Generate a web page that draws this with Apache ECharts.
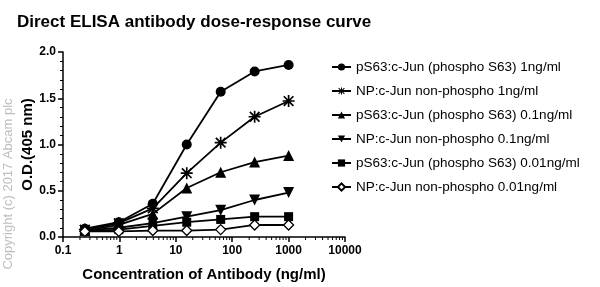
<!DOCTYPE html>
<html>
<head>
<meta charset="utf-8">
<script src="https://cdn.jsdelivr.net/npm/echarts@6/dist/echarts.min.js"></script>
<style>
  html, body { margin: 0; padding: 0; background: #fff; }
</style>
</head>
<body>
<div id="chart" style="width: 600px; height: 287px;"></div>
<script>
// antibody concentrations (ng/ml), 4-fold dilutions
var conc = [0.244, 0.977, 3.906, 15.625, 62.5, 250, 1000];

var seriesNames = [
  "pS63:c-Jun (phospho S63) 1ng/ml",
  "NP:c-Jun non-phospho 1ng/ml",
  "pS63:c-Jun (phospho S63) 0.1ng/ml",
  "NP:c-Jun non-phospho 0.1ng/ml",
  "pS63:c-Jun (phospho S63) 0.01ng/ml",
  "NP:c-Jun non-phospho 0.01ng/ml"
];

// O.D. (405 nm)
var odP1 = [0.09, 0.16, 0.36, 1.0, 1.57, 1.79, 1.86];
var odNP1 = [0.08, 0.15, 0.31, 0.69, 1.02, 1.30, 1.47];
var odP01 = [0.07, 0.13, 0.25, 0.53, 0.70, 0.81, 0.88];
var odNP01 = [0.07, 0.10, 0.15, 0.22, 0.29, 0.40, 0.48];
var odP001 = [0.06, 0.08, 0.12, 0.16, 0.19, 0.22, 0.22];
var odNP001 = [0.06, 0.06, 0.07, 0.07, 0.08, 0.13, 0.13];

var yTicks = ["0.0", "0.5", "1.0", "1.5", "2.0"];

// minor ticks of the log axis (2..9 in each decade)
var minorTicks = [];
[0.1, 1, 10, 100, 1000].forEach(function (d) {
  for (var k = 2; k <= 9; k++) minorTicks.push([d * k]);
});

var starPath = "path://M0 4.3H10V5.7H0Z M4.3 0H5.7V10H4.3Z M0.5 1.5L1.5 0.5L9.5 8.5L8.5 9.5Z M8.5 0.5L9.5 1.5L1.5 9.5L0.5 8.5Z";

function pairs(vals) {
  return conc.map(function (c, i) { return [c, vals[i]]; });
}

function lineSeries(name, vals, symbol, size, extra) {
  var s = {
    name: name,
    type: "line",
    data: pairs(vals),
    symbol: symbol,
    symbolSize: size,
    showAllSymbol: true,
    lineStyle: { color: "#000", width: 1.8 },
    itemStyle: { color: "#000", borderColor: "#000", borderWidth: 0 },
    emphasis: { disabled: true },
    z: 3
  };
  if (extra) Object.assign(s, extra);
  return s;
}

var fontFam = "'Liberation Sans', Arial, sans-serif";

var chart = echarts.init(document.getElementById("chart"));
var option = {
  animation: false,
  textStyle: { fontFamily: fontFam },
  title: {
    text: "Direct ELISA antibody dose-response curve",
    left: 12,
    top: 9,
    textStyle: { fontFamily: fontFam, fontWeight: "bold", fontSize: 17, color: "#000" }
  },
  legend: {
    data: seriesNames,
    orient: "vertical",
    left: 326,
    top: 55,
    itemWidth: 19,
    itemHeight: 9,
    itemGap: 10,
    textStyle: { fontFamily: fontFam, fontSize: 13.5, color: "#000" },
    selectedMode: false
  },
  grid: { left: 63, top: 52, width: 282, bottom: 47, containLabel: false },
  xAxis: {
    type: "log",
    logBase: 10,
    min: 0.1,
    max: 10000,
    name: "Concentration of Antibody (ng/ml)",
    nameLocation: "middle",
    nameGap: 30,
    nameTextStyle: { fontFamily: fontFam, fontWeight: "bold", fontSize: 15, color: "#000" },
    axisLine: { lineStyle: { color: "#000", width: 1.5 } },
    axisTick: { length: 5, lineStyle: { color: "#000", width: 1.5 } },
    axisLabel: {
      color: "#000", fontWeight: "bold", fontSize: 12, margin: 8,
      formatter: function (v) { return String(+v.toPrecision(6)); }
    },
    splitLine: { show: false }
  },
  yAxis: {
    type: "value",
    min: 0,
    max: 2,
    interval: 0.5,
    name: "O.D.(405 nm)",
    nameLocation: "middle",
    nameGap: 22,
    nameTextStyle: { fontFamily: fontFam, fontWeight: "bold", fontSize: 15, color: "#000" },
    axisLine: { show: true, lineStyle: { color: "#000", width: 1.5 } },
    axisTick: { show: true, length: 5, lineStyle: { color: "#000", width: 1.5 } },
    minorTick: { show: true, splitNumber: 5, length: 3, lineStyle: { color: "#000", width: 1 } },
    axisLabel: {
      color: "#000", fontWeight: "bold", fontSize: 12, margin: 7,
      formatter: function (v) { return yTicks[Math.round(v / 0.5)]; }
    },
    splitLine: { show: false }
  },
  graphic: [{
    type: "text",
    x: 8,
    y: 184,
    rotation: Math.PI / 2,
    style: {
      text: "Copyright (c) 2017 Abcam plc",
      fill: "#bdbdbd",
      font: "13px " + fontFam,
      align: "center",
      verticalAlign: "middle"
    }
  }],
  series: [
    lineSeries(seriesNames[0], odP1, "circle", 10),
    lineSeries(seriesNames[1], odNP1, starPath, 12),
    lineSeries(seriesNames[2], odP01, "triangle", 11),
    lineSeries(seriesNames[3], odNP01, "triangle", 11, { symbolRotate: 180 }),
    lineSeries(seriesNames[4], odP001, "rect", 9),
    lineSeries(seriesNames[5], odNP001, "diamond", 10, {
      itemStyle: { color: "#fff", borderColor: "#000", borderWidth: 1.3 }
    }),
    {
      type: "custom",
      silent: true,
      clip: false,
      data: minorTicks,
      encode: { x: 0 },
      renderItem: function (params, api) {
        var p = api.coord([api.value(0), 0]);
        return {
          type: "line",
          shape: { x1: p[0], y1: p[1], x2: p[0], y2: p[1] + 3 },
          style: { stroke: "#000", lineWidth: 1 }
        };
      }
    }
  ]
};
chart.setOption(option);
</script>
</body>
</html>
